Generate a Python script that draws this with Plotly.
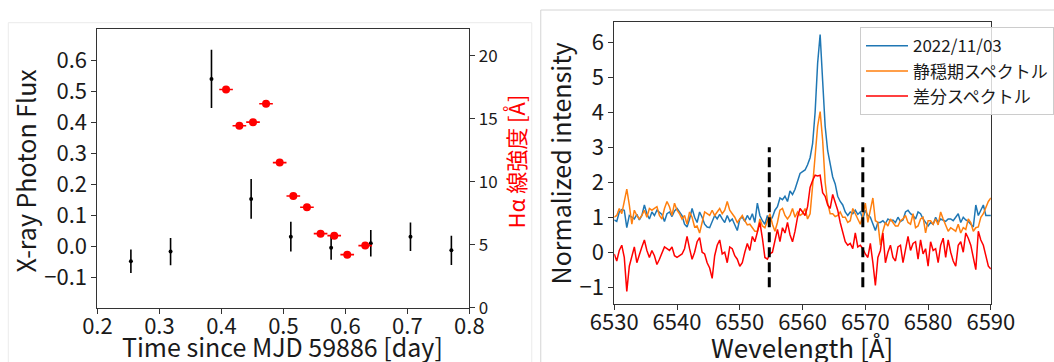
import numpy as np
import plotly.graph_objects as go

# ---------------- Left panel data ----------------
xray_t = [0.254, 0.318, 0.384, 0.448, 0.512, 0.577, 0.641, 0.705, 0.771]
xray_flux = [-0.048, -0.017, 0.540, 0.153, 0.031, -0.005, 0.010, 0.031, -0.013]
xray_err = [0.038, 0.044, 0.094, 0.064, 0.048, 0.038, 0.043, 0.046, 0.047]

ha_t = [0.4075, 0.429, 0.451, 0.472, 0.494, 0.516, 0.538, 0.560, 0.582, 0.603, 0.632]
ha_ew = [17.32, 14.44, 14.73, 16.19, 11.52, 8.87, 7.97, 5.88, 5.72, 4.21, 4.93]
ha_terr = [0.011, 0.011, 0.011, 0.011, 0.011, 0.011, 0.011, 0.011, 0.011, 0.011, 0.011]

# ---------------- Right panel data ----------------
wl_start = 6530.0
wl_step = 0.4
obs_2022 = [0.92, 0.88, 1.15, 1.22, 1.20, 0.70, 1.05, 1.00, 0.95, 1.08,
            0.92, 1.05, 1.35, 1.10, 0.95, 1.15, 1.05, 1.20, 1.15, 1.08,
            0.88, 1.10, 1.15, 1.02, 1.18, 1.25, 1.15, 1.05, 0.80, 0.72,
            0.95, 1.25, 1.00, 0.85, 1.15, 1.00, 0.80, 0.72, 0.70, 0.90,
            1.05, 0.95, 1.08, 0.95, 0.85, 1.05, 0.88, 0.95, 0.80, 0.62,
            0.95, 1.00, 0.88, 1.05, 0.92, 1.10, 0.85, 1.40, 1.05, 0.90,
            0.80, 1.05, 0.88, 1.00, 1.20, 1.30, 1.55, 1.50, 1.60, 1.45,
            1.75, 1.65, 1.80, 2.05, 2.25, 2.30, 2.35, 2.50, 2.70, 3.10,
            4.00, 5.40, 6.22, 4.90, 3.60, 2.90, 2.55, 2.15, 1.95, 1.60,
            1.45, 1.35, 1.15, 1.05, 1.15, 1.10, 1.20, 1.08, 1.15, 0.95,
            1.20, 1.05, 1.00, 0.80, 0.62, 0.85, 0.85, 0.90, 0.82, 0.95,
            0.90, 0.92, 0.85, 1.00, 0.88, 0.92, 1.15, 1.20, 1.10, 1.05,
            0.95, 1.15, 1.10, 0.95, 0.85, 0.75, 0.85, 0.80, 1.00, 0.85,
            0.95, 0.92, 0.88, 0.95, 0.95, 0.90, 1.00, 1.10, 0.85, 1.00,
            0.92, 0.88, 0.80, 0.72, 1.35, 1.05, 1.20, 1.35, 1.05, 1.05,
            1.05]
quiet = [1.00, 1.05, 1.25, 1.10, 1.45, 1.80, 1.35, 0.80, 1.20, 1.05,
         0.95, 1.05, 1.20, 1.00, 1.25, 1.20, 1.25, 1.30, 1.05, 0.95,
         1.25, 1.45, 1.30, 1.05, 1.40, 1.20, 1.10, 0.95, 1.05, 0.80,
         1.15, 1.00, 0.72, 0.75, 0.55, 0.85, 1.15, 1.10, 1.05, 1.20,
         1.05, 1.15, 1.25, 1.10, 1.20, 1.45, 1.20, 1.10, 1.00, 0.85,
         0.95, 1.05, 0.90, 0.78, 0.80, 0.70, 0.60, 0.60, 0.95, 0.75,
         0.70, 0.90, 1.10, 0.80, 0.60, 0.85, 1.20, 1.25, 1.05, 0.95,
         1.05, 1.25, 1.00, 1.15, 1.05, 1.10, 1.25, 0.95, 1.10, 1.90,
         2.80, 3.60, 4.02, 3.20, 2.00, 1.40, 1.10, 1.10, 1.02, 1.05,
         1.15, 1.00, 1.00, 0.85, 0.90, 1.25, 1.10, 0.95, 0.80, 1.05,
         1.40, 0.85, 1.20, 1.55, 0.90, 0.85, 0.20, 0.60, 0.85, 0.75,
         0.95, 0.85, 0.75, 0.75, 0.90, 0.95, 1.05, 0.85, 0.80, 1.10,
         0.70, 0.75, 0.95, 1.00, 0.55, 0.90, 0.90, 0.80, 0.95, 0.78,
         1.15, 0.95, 0.75, 0.60, 0.70, 0.65, 0.60, 0.80, 0.55, 0.70,
         0.65, 0.95, 0.85, 0.60, 0.70, 0.72, 1.00, 1.10, 1.30, 1.45,
         1.55]
diff = [-0.05, -0.25, 0.05, 0.20, -0.15, -1.12, -0.40, -0.15, 0.15, -0.30,
        -0.05, 0.15, 0.35, 0.05, -0.15, 0.05, -0.10, -0.35, -0.20, 0.00,
        0.15, 0.10, 0.05, 0.15, -0.10, -0.15, -0.10, -0.05, 0.10, 0.45,
        0.10, -0.20, 0.00, 0.30, 0.42, 0.00, -0.05, -0.30, -0.45, -0.75,
        -0.10, 0.20, 0.35, -0.05, 0.00, -0.30, 0.15, 0.10, -0.10, -0.20,
        -0.40, -0.30, 0.00, 0.25, 0.05, 0.45, 0.30, 0.55, 0.85, 0.40,
        -0.15, -0.20, -0.05, 0.00, 0.35, 0.65, 0.30, 0.70, 0.55, 0.85,
        0.50, 0.30, 0.60, 1.00, 1.25, 1.15, 1.05, 1.30, 1.85, 2.05,
        2.20, 2.18, 2.20, 1.70, 1.60, 1.35, 1.25, 1.65, 1.45, 1.20,
        0.85, 0.55, 0.30, 0.20, 0.25, 0.10, 0.55, 0.15, 0.20, 0.10,
        -0.05, -0.15, 0.25, -0.30, -0.95, -0.15, 0.05, 0.55, -0.30, 0.00,
        0.20, -0.15, -0.25, 0.15, 0.20, -0.30, 0.10, 0.45, 0.05, 0.25,
        0.30, -0.20, 0.35, -0.05, 0.10, -0.40, 0.30, 0.05, 0.10, -0.30,
        0.20, 0.40, -0.15, 0.35, 0.00, -0.25, -0.40, 0.20, 0.30, 0.00,
        0.55, 0.40, 0.20, -0.20, -0.50, 0.60, 0.35, 0.20, -0.10, -0.40,
        -0.48]
wl = np.round(wl_start + wl_step * np.arange(len(obs_2022)), 1)

win_x = [6554.7, 6569.6]
win_y = [-1.0, 3.0]

legend_names = ["2022/11/03", "静穏期スペクトル", "差分スペクトル"]

FONT = "Noto Sans CJK JP, Noto Sans, sans-serif"
TXT = "#1a1a1a"
SPINE = "#333333"

fig = go.Figure()

# left panel: X-ray flux
fig.add_trace(go.Scatter(
    x=xray_t, y=xray_flux, mode="markers",
    marker=dict(color="black", size=4),
    error_y=dict(type="data", array=xray_err, color="black", thickness=1.6, width=0),
    xaxis="x", yaxis="y", showlegend=False))
# left panel: Halpha EW
fig.add_trace(go.Scatter(
    x=ha_t, y=ha_ew, mode="markers",
    marker=dict(color="red", size=8),
    error_x=dict(type="data", array=ha_terr, color="red", thickness=1.6, width=0),
    xaxis="x", yaxis="y2", showlegend=False))

# right panel spectra
for vals, col, name in [(obs_2022, "#1f77b4", legend_names[0]),
                        (quiet, "#ff7f0e", legend_names[1]),
                        (diff, "#ff0000", legend_names[2])]:
    fig.add_trace(go.Scatter(x=wl, y=vals, mode="lines", name=name,
                             line=dict(color=col, width=1.5),
                             xaxis="x2", yaxis="y3"))

for wx in win_x:
    fig.add_trace(go.Scatter(x=[wx, wx], y=win_y, mode="lines",
                             line=dict(color="black", width=3, dash="10px,5px"),
                             xaxis="x2", yaxis="y3", showlegend=False))

W, H = 1054, 362
def px(x):
    return x / W
def py(y):
    return (H - y) / H

common_axis = dict(showgrid=False, zeroline=False, showline=True, linecolor=SPINE,
                   linewidth=1, ticks="outside", ticklen=5, tickwidth=1, tickcolor=SPINE,
                   automargin=False,
                   tickfont=dict(family=FONT, size=22, color=TXT))

def title_ann(text, x, y, size, angle=0, color=TXT):
    return dict(text=text, xref="paper", yref="paper", x=px(x), y=py(y),
                xanchor="center", yanchor="middle", showarrow=False,
                textangle=angle, font=dict(family=FONT, size=size, color=color))

fig.update_layout(
    width=W, height=H,
    margin=dict(l=0, r=0, t=0, b=0),
    paper_bgcolor="white", plot_bgcolor="white",
    font=dict(family=FONT, color=TXT),
    xaxis=dict(common_axis, domain=[px(97.7), px(470.7)], range=[0.2, 0.8],
               tickmode="array", tickvals=[0.2, 0.3, 0.4, 0.5, 0.6, 0.7, 0.8],
               ticktext=["0.2", "0.3", "0.4", "0.5", "0.6", "0.7", "0.8"],
               ticklabelstandoff=-6, mirror=True, anchor="y"),
    yaxis=dict(common_axis, domain=[py(307.7), py(29.3)], range=[-0.198, 0.7],
               tickmode="array", tickvals=[-0.1, 0, 0.1, 0.2, 0.3, 0.4, 0.5, 0.6],
               ticktext=["−0.1", "0.0", "0.1", "0.2", "0.3", "0.4", "0.5", "0.6"],
               mirror=True, anchor="x"),
    yaxis2=dict(common_axis, overlaying="y", side="right", anchor="x",
                range=[0, 22.1], tickmode="array", tickvals=[0, 5, 10, 15, 20],
                tickfont=dict(family=FONT, size=17, color=TXT)),
    xaxis2=dict(common_axis, domain=[px(616), px(993.7)], range=[6530, 6590],
                tickmode="array", tickvals=[6530, 6540, 6550, 6560, 6570, 6580, 6590],
                ticklabelstandoff=-6, mirror=True, anchor="y3"),
    yaxis3=dict(common_axis, domain=[py(304), py(22.3)], range=[-1.48, 6.57],
                tickmode="array", tickvals=[-1, 0, 1, 2, 3, 4, 5, 6],
                ticktext=["−1", "0", "1", "2", "3", "4", "5", "6"],
                mirror=True, anchor="x2"),
    annotations=[
        title_ann("Time since MJD 59886 [day]", 283, 346, 25),
        title_ann("X-ray Photon Flux", 25.5, 170, 25, angle=-90),
        title_ann("Hα 線強度 [Å]", 516, 162, 22, angle=-90, color="red"),
        title_ann("Wevelength [Å]", 804.5, 346, 26),
        title_ann("Normalized intensity", 562, 163, 25, angle=-90),
    ],
    legend=dict(x=px(862.7), y=py(27.3), xanchor="left", yanchor="top",
                bgcolor="rgba(255,255,255,0.8)", bordercolor="#cccccc", borderwidth=1,
                font=dict(family=FONT, size=17, color=TXT),
                tracegroupgap=0, itemwidth=42),
    shapes=[
        dict(type="rect", xref="paper", yref="paper", x0=px(8.3), x1=px(533.3),
             y0=py(370), y1=py(22.7), line=dict(color="#ebebeb", width=1),
             fillcolor="rgba(0,0,0,0)", layer="below"),
        dict(type="rect", xref="paper", yref="paper", x0=px(542.3), x1=px(1060),
             y0=py(370), y1=py(10), line=dict(color="#d4d4d4", width=1),
             fillcolor="rgba(0,0,0,0)", layer="below"),
    ],
)

fig.write_html("out.html", config={"displayModeBar": False},
               post_script="document.body.style.margin='0';document.body.style.overflow='hidden';")
